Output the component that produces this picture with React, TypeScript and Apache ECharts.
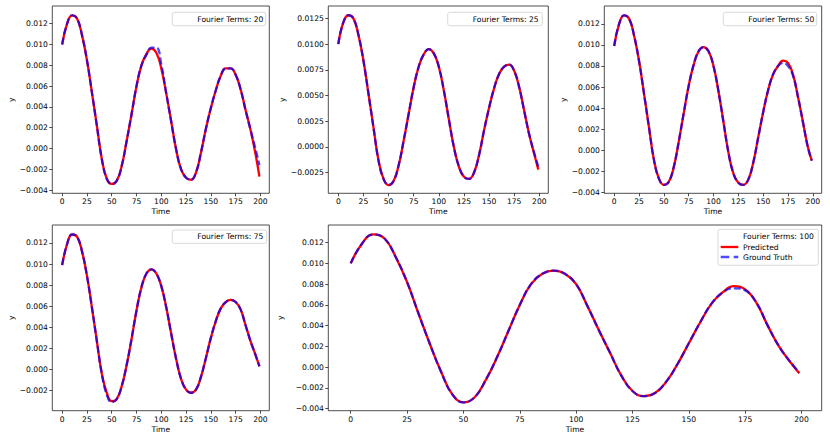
import React, { useEffect, useRef } from "react";
import * as echarts from "echarts";

const TIME = [0, 5, 10, 15, 20, 25, 30, 35, 40, 45, 50, 55, 60, 65, 70, 75, 80, 85, 90, 95, 100, 105, 110, 115, 120, 125, 130, 135, 140, 145, 150, 155, 160, 165, 170, 175, 180, 185, 190, 195, 199];

const GT_20 = [0.0100, 0.0120, 0.0128, 0.0125, 0.0109, 0.0085, 0.0054, 0.0022, -0.0010, -0.0029, -0.0034, -0.0031, -0.0017, 0.0007, 0.0033, 0.0060, 0.0080, 0.0090, 0.0097, 0.0097, 0.0081, 0.0053, 0.0026, -0.0001, -0.0020, -0.0028, -0.0030, -0.0023, -0.0004, 0.0019, 0.0039, 0.0056, 0.0070, 0.0077, 0.0077, 0.0071, 0.0057, 0.0037, 0.0018, 0.0000, -0.0016];
const PRED_20 = [0.0100, 0.0120, 0.0128, 0.0125, 0.0109, 0.0085, 0.0054, 0.0022, -0.0010, -0.0029, -0.0034, -0.0031, -0.0017, 0.0007, 0.0033, 0.0060, 0.0080, 0.0091, 0.0096, 0.0092, 0.0077, 0.0053, 0.0026, -0.0001, -0.0020, -0.0028, -0.0030, -0.0023, -0.0004, 0.0019, 0.0039, 0.0056, 0.0070, 0.0077, 0.0077, 0.0071, 0.0057, 0.0037, 0.0018, -0.0005, -0.0027];

const GT_25 = [0.0100, 0.0121, 0.0128, 0.0125, 0.0109, 0.0084, 0.0052, 0.0019, -0.0013, -0.0031, -0.0037, -0.0033, -0.0018, 0.0006, 0.0032, 0.0058, 0.0078, 0.0090, 0.0095, 0.0091, 0.0078, 0.0055, 0.0027, 0.0000, -0.0019, -0.0029, -0.0031, -0.0025, -0.0008, 0.0016, 0.0038, 0.0057, 0.0071, 0.0078, 0.0080, 0.0074, 0.0058, 0.0035, 0.0012, -0.0006, -0.0019];
const PRED_25 = [0.0100, 0.0121, 0.0128, 0.0125, 0.0109, 0.0084, 0.0052, 0.0019, -0.0013, -0.0031, -0.0037, -0.0033, -0.0018, 0.0006, 0.0032, 0.0058, 0.0078, 0.0090, 0.0095, 0.0091, 0.0078, 0.0055, 0.0027, 0.0000, -0.0019, -0.0029, -0.0031, -0.0025, -0.0008, 0.0016, 0.0038, 0.0057, 0.0071, 0.0078, 0.0080, 0.0074, 0.0058, 0.0035, 0.0012, -0.0007, -0.0022];

const GT_50 = [0.0099, 0.0120, 0.0128, 0.0125, 0.0109, 0.0085, 0.0054, 0.0022, -0.0009, -0.0027, -0.0033, -0.0030, -0.0016, 0.0008, 0.0035, 0.0061, 0.0081, 0.0094, 0.0098, 0.0094, 0.0080, 0.0056, 0.0027, -0.0002, -0.0022, -0.0031, -0.0033, -0.0028, -0.0012, 0.0012, 0.0036, 0.0057, 0.0072, 0.0080, 0.0083, 0.0080, 0.0071, 0.0051, 0.0027, 0.0003, -0.0010];
const PRED_50 = [0.0099, 0.0120, 0.0128, 0.0125, 0.0109, 0.0085, 0.0054, 0.0022, -0.0009, -0.0027, -0.0033, -0.0030, -0.0016, 0.0008, 0.0035, 0.0061, 0.0081, 0.0094, 0.0098, 0.0094, 0.0080, 0.0056, 0.0027, -0.0002, -0.0022, -0.0031, -0.0033, -0.0028, -0.0012, 0.0012, 0.0036, 0.0057, 0.0072, 0.0080, 0.0085, 0.0083, 0.0072, 0.0051, 0.0027, 0.0003, -0.0010];

const GT_75 = [0.0099, 0.0119, 0.0128, 0.0126, 0.0112, 0.0089, 0.0059, 0.0027, -0.0004, -0.0024, -0.0031, -0.0028, -0.0016, 0.0004, 0.0029, 0.0056, 0.0078, 0.0091, 0.0095, 0.0091, 0.0079, 0.0059, 0.0034, 0.0010, -0.0009, -0.0019, -0.0022, -0.0019, -0.0007, 0.0011, 0.0030, 0.0046, 0.0058, 0.0064, 0.0066, 0.0064, 0.0057, 0.0042, 0.0027, 0.0014, 0.0003];
const PRED_75 = [0.0099, 0.0119, 0.0128, 0.0126, 0.0112, 0.0089, 0.0059, 0.0027, -0.0004, -0.0022, -0.0030, -0.0028, -0.0016, 0.0004, 0.0029, 0.0056, 0.0078, 0.0091, 0.0095, 0.0091, 0.0079, 0.0059, 0.0034, 0.0010, -0.0009, -0.0019, -0.0022, -0.0019, -0.0007, 0.0011, 0.0030, 0.0046, 0.0058, 0.0064, 0.0066, 0.0064, 0.0057, 0.0042, 0.0027, 0.0014, 0.0003];

const GT_100 = [0.0100, 0.0119, 0.0128, 0.0124, 0.0106, 0.0082, 0.0052, 0.0023, -0.0004, -0.0026, -0.0034, -0.0029, -0.0012, 0.0010, 0.0035, 0.0060, 0.0080, 0.0090, 0.0093, 0.0090, 0.0080, 0.0059, 0.0036, 0.0014, -0.0008, -0.0023, -0.0028, -0.0025, -0.0014, 0.0003, 0.0023, 0.0043, 0.0061, 0.0072, 0.0076, 0.0074, 0.0062, 0.0040, 0.0020, 0.0005, -0.0005];
const PRED_100 = [0.0100, 0.0119, 0.0128, 0.0124, 0.0106, 0.0082, 0.0052, 0.0023, -0.0004, -0.0026, -0.0034, -0.0029, -0.0012, 0.0010, 0.0035, 0.0060, 0.0080, 0.0090, 0.0093, 0.0090, 0.0080, 0.0059, 0.0036, 0.0014, -0.0008, -0.0023, -0.0028, -0.0025, -0.0014, 0.0003, 0.0023, 0.0043, 0.0061, 0.0072, 0.0078, 0.0075, 0.0062, 0.0040, 0.0020, 0.0005, -0.0006];

const FOURIER_TERMS = [20, 25, 50, 75, 100];
const X_TICKS = [0, 25, 50, 75, 100, 125, 150, 175, 200];
const Y_TICKS_3 = [-0.004, -0.002, 0, 0.002, 0.004, 0.006, 0.008, 0.01, 0.012];
const Y_TICKS_4 = [-0.0025, 0, 0.0025, 0.005, 0.0075, 0.01, 0.0125];
const Y_TICKS_75 = [-0.002, 0, 0.002, 0.004, 0.006, 0.008, 0.01, 0.012];

const FONT = "DejaVu Sans";
const FS = 7.6;

const PANELS = [
  { left: 52.3, top: 6, width: 217, height: 187.3, ymin: -0.0043, ymax: 0.0137, ticks: Y_TICKS_3, dec: 3, gt: GT_20, pred: PRED_20, yGap: 35,
    legend: { x: 172.3, y: 12.3, w: 93.4, h: 13.4 } },
  { left: 328.3, top: 6, width: 220, height: 187.3, ymin: -0.0045, ymax: 0.0137, ticks: Y_TICKS_4, dec: 4, gt: GT_25, pred: PRED_25, yGap: 40,
    legend: { x: 447.7, y: 12.3, w: 94.6, h: 13.4 } },
  { left: 604.3, top: 6, width: 217.4, height: 187.3, ymin: -0.0041, ymax: 0.0137, ticks: Y_TICKS_3, dec: 3, gt: GT_50, pred: PRED_50, yGap: 35,
    legend: { x: 723.3, y: 12.3, w: 93.4, h: 13.4 } },
  { left: 52.3, top: 225, width: 217, height: 185.7, ymin: -0.0039, ymax: 0.0137, ticks: Y_TICKS_75, dec: 3, gt: GT_75, pred: PRED_75, yGap: 35,
    legend: { x: 172.3, y: 230, w: 94.4, h: 13.4 } },
  { left: 328.3, top: 225, width: 493.4, height: 185.7, ymin: -0.0042, ymax: 0.0137, ticks: Y_TICKS_3, dec: 3, gt: GT_100, pred: PRED_100, yGap: 35,
    legend: { x: 718, y: 229.3, w: 100.3, h: 36 } },
];

const fmt = (v: number, d: number) => {
  const s = Math.abs(v).toFixed(d);
  return (v < -1e-12 ? "\u2212" : "") + s;
};

export default function App() {
  const ref = useRef<HTMLDivElement>(null);
  useEffect(() => {
    if (!ref.current) return;
    const chart = echarts.init(ref.current, undefined, { renderer: "svg" });
    const textStyle = { fontFamily: FONT, fontSize: FS, color: "#000" };
    const grid = PANELS.map((p) => ({
      left: p.left, top: p.top, width: p.width, height: p.height,
      show: true, borderColor: "#222", borderWidth: 0.8, backgroundColor: "transparent",
    }));
    const xAxis = PANELS.map((p, i) => ({
      type: "value", gridIndex: i, min: -9.95, max: 208.95,
      name: "Time", nameLocation: "middle", nameGap: 14.5,
      nameTextStyle: textStyle,
      axisLine: { show: false, onZero: false },
      axisTick: { show: true, inside: false, length: 3, lineStyle: { color: "#222", width: 0.8 }, customValues: X_TICKS },
      axisLabel: { ...textStyle, margin: 4.5, customValues: X_TICKS, formatter: (v: number) => String(Math.round(v)) },
      splitLine: { show: false },
    }));
    const yAxis = PANELS.map((p, i) => ({
      type: "value", gridIndex: i, min: p.ymin, max: p.ymax,
      name: "y", nameLocation: "middle", nameGap: p.yGap,
      nameTextStyle: textStyle,
      axisLine: { show: false, onZero: false },
      axisTick: { show: true, inside: false, length: 3, lineStyle: { color: "#222", width: 0.8 }, customValues: p.ticks },
      axisLabel: { ...textStyle, margin: 4.5, customValues: p.ticks, formatter: (v: number) => fmt(v, p.dec) },
      splitLine: { show: false },
    }));
    const series: any[] = [];
    PANELS.forEach((p, i) => {
      series.push({
        name: "Predicted", type: "line", xAxisIndex: i, yAxisIndex: i, showSymbol: false, symbol: "none",
        smooth: 0.45,
        data: TIME.map((t, k) => [t, p.pred[k]]),
        lineStyle: { color: "#ff0000", width: 2.3 }, itemStyle: { color: "#ff0000" }, z: 2,
      });
      series.push({
        name: "Ground Truth", type: "line", xAxisIndex: i, yAxisIndex: i, showSymbol: false, symbol: "none",
        smooth: 0.45,
        data: TIME.map((t, k) => [t, p.gt[k]]),
        lineStyle: { color: "rgba(0,0,255,0.7)", width: 2.3, type: [7, 3] }, itemStyle: { color: "rgba(0,0,255,0.7)" }, z: 3,
      });
    });
    const graphic: any[] = [];
    PANELS.forEach((p, i) => {
      const L = p.legend;
      graphic.push({
        type: "rect", shape: { x: L.x, y: L.y, width: L.w, height: L.h, r: 2 },
        style: { fill: "rgba(255,255,255,0.8)", stroke: "#d0d0d0", lineWidth: 0.8 }, z: 10,
      });
      const tx = L.x + 25;
      const first = i === 4 ? L.y + 7 : L.y + L.h / 2;
      graphic.push({
        type: "text", x: tx, y: first, z: 11,
        style: { text: "Fourier Terms: " + FOURIER_TERMS[i], fontFamily: FONT, fontSize: FS, fill: "#000", verticalAlign: "middle", align: "left" },
      });
      if (i === 4) {
        graphic.push({
          type: "line", z: 11, shape: { x1: L.x + 2.7, y1: L.y + 17.7, x2: L.x + 20.3, y2: L.y + 17.7 },
          style: { stroke: "#ff0000", lineWidth: 2.3 },
        });
        graphic.push({
          type: "text", x: tx, y: L.y + 17.7, z: 11,
          style: { text: "Predicted", fontFamily: FONT, fontSize: FS, fill: "#000", verticalAlign: "middle", align: "left" },
        });
        graphic.push({
          type: "line", z: 11, shape: { x1: L.x + 2.7, y1: L.y + 27.7, x2: L.x + 20.3, y2: L.y + 27.7 },
          style: { stroke: "rgba(0,0,255,0.7)", lineWidth: 2.3, lineDash: [8.6, 4.4] },
        });
        graphic.push({
          type: "text", x: tx, y: L.y + 27.7, z: 11,
          style: { text: "Ground Truth", fontFamily: FONT, fontSize: FS, fill: "#000", verticalAlign: "middle", align: "left" },
        });
      }
    });
    chart.setOption({
      animation: false,
      backgroundColor: "#ffffff",
      textStyle: { fontFamily: FONT },
      grid, xAxis, yAxis, series, graphic,
    } as any);
    return () => chart.dispose();
  }, []);
  return <div ref={ref} style={{ position: "fixed", left: 0, top: 0, width: 830, height: 443 }} />;
}
